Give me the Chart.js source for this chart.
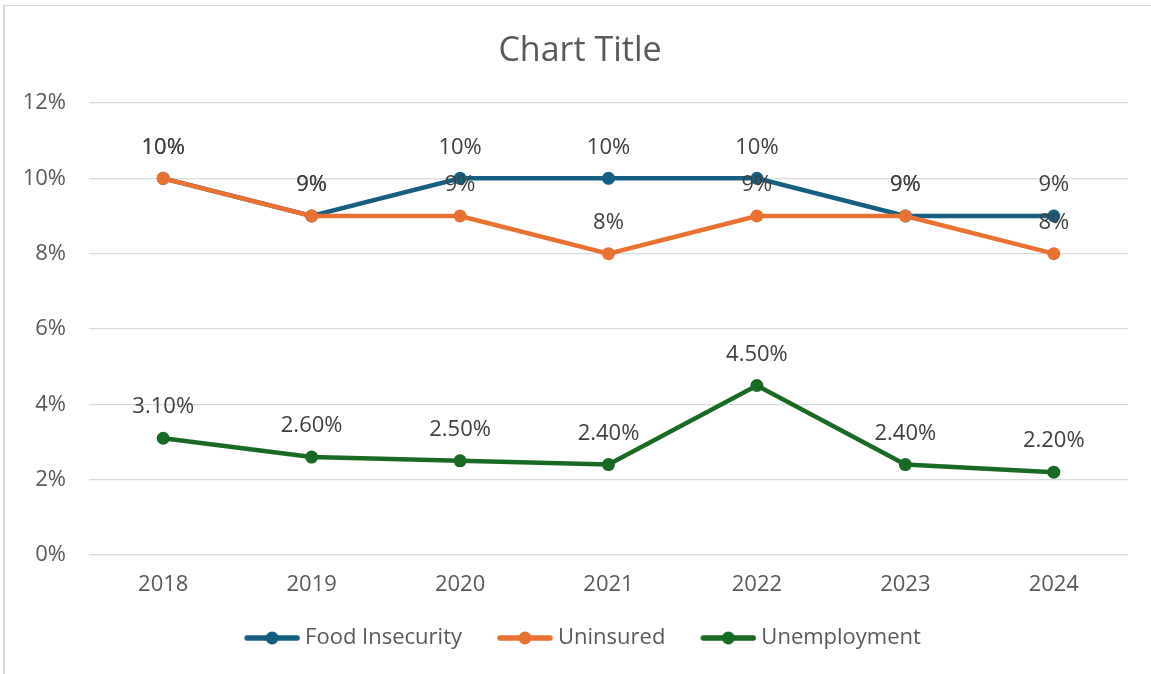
<!DOCTYPE html>
<html>
<head>
<meta charset="utf-8">
<script src="https://cdn.jsdelivr.net/npm/chart.js@4/dist/chart.umd.min.js"></script>
<style>
  html, body { margin: 0; padding: 0; background: #ffffff; }
  #wrap { position: relative; width: 1151px; height: 674px; overflow: hidden; }
  #frame { position: absolute; left: 3px; top: 5px; right: -2px; bottom: -2px;
           border-left: 2px solid #d9d9d9; border-top: 1px solid #d9d9d9; }
  canvas { position: absolute; left: 0; top: 0; }
</style>
</head>
<body>
<div id="wrap">
  <div id="frame"></div>
  <canvas id="c" width="1151" height="674"></canvas>
</div>
<script>
const categories = ['2018', '2019', '2020', '2021', '2022', '2023', '2024'];
const foodInsecurity = [10, 9, 10, 10, 10, 9, 9];
const uninsured = [10, 9, 9, 8, 9, 9, 8];
const unemployment = [3.1, 2.6, 2.5, 2.4, 4.5, 2.4, 2.2];
const seriesNames = ['Food Insecurity', 'Uninsured', 'Unemployment'];
const seriesColors = ['#156082', '#E97132', '#196B24'];
const labelDecimals = [0, 0, 2];
const yTicks = [0, 2, 4, 6, 8, 10, 12];

const FONT = '"Open Sans", "Liberation Sans", sans-serif';

// legend marker: line with a dot, drawn on the right part of a wider transparent canvas
function legendMarker(color) {
  const cv = document.createElement('canvas');
  cv.width = 69; cv.height = 16;
  const g = cv.getContext('2d');
  g.strokeStyle = color; g.lineWidth = 5.5; g.lineCap = 'round';
  g.beginPath(); g.moveTo(16, 8); g.lineTo(66, 8); g.stroke();
  g.fillStyle = color;
  g.beginPath(); g.arc(41, 8, 6.5, 0, Math.PI * 2); g.fill();
  return cv;
}
const markers = seriesColors.map(legendMarker);

const dataLabelPlugin = {
  id: 'dataLabels',
  afterDatasetsDraw(chart) {
    const ctx = chart.ctx;
    ctx.save();
    ctx.font = '22px ' + FONT;
    ctx.fillStyle = '#404040';
    ctx.textAlign = 'center';
    ctx.textBaseline = 'middle';
    chart.data.datasets.forEach((ds, i) => {
      const meta = chart.getDatasetMeta(i);
      meta.data.forEach((pt, j) => {
        const v = ds.data[j];
        ctx.fillText(v.toFixed(labelDecimals[i]) + '%', pt.x, pt.y - 31);
      });
    });
    ctx.restore();
  }
};

// shift the legend and title boxes so that they are centred like the reference
const boxShiftPlugin = {
  id: 'boxShift',
  afterLayout(chart) {
    if (chart.legend) { chart.legend.left += 30; }
    if (chart.titleBlock) { chart.titleBlock.left += 32; }
  }
};

const allSeries = [foodInsecurity, uninsured, unemployment];

new Chart(document.getElementById('c'), {
  type: 'line',
  data: {
    labels: categories,
    datasets: allSeries.map((d, i) => ({
      label: seriesNames[i],
      data: d,
      borderColor: seriesColors[i],
      backgroundColor: seriesColors[i],
      pointBackgroundColor: seriesColors[i],
      pointBorderColor: seriesColors[i],
      borderWidth: 4.5,
      pointRadius: 6.5,
      pointBorderWidth: 0,
      tension: 0,
      order: 3 - i
    }))
  },
  options: {
    responsive: false,
    animation: false,
    devicePixelRatio: 1,
    layout: { padding: { left: 0, right: 23, top: 0, bottom: 15 } },
    plugins: {
      tooltip: { enabled: false },
      title: {
        display: true,
        text: 'Chart Title',
        color: '#595959',
        font: { family: FONT, size: 34, weight: 'normal' },
        padding: { top: 30.6, bottom: 31.6 }
      },
      legend: {
        display: true,
        position: 'bottom',
        labels: {
          usePointStyle: true,
          pointStyleWidth: 57,
          boxHeight: 16,
          padding: 28,
          color: '#595959',
          font: { family: FONT, size: 22 },
          generateLabels(chart) {
            return chart.data.datasets.map((ds, i) => ({
              text: ds.label,
              fillStyle: seriesColors[i],
              strokeStyle: seriesColors[i],
              lineWidth: 0,
              pointStyle: markers[i],
              fontColor: '#595959',
              hidden: false,
              datasetIndex: i
            }));
          }
        }
      }
    },
    scales: {
      x: {
        offset: true,
        grid: { display: false, drawTicks: false },
        border: { display: false },
        ticks: { color: '#595959', font: { family: FONT, size: 22 }, padding: 16.8 },
        afterFit(scale) { scale.height = 44; }
      },
      y: {
        min: 0, max: 12,
        afterBuildTicks(scale) { scale.ticks = yTicks.map(v => ({ value: v })); },
        grid: { color: '#d9d9d9', lineWidth: 1.3, drawTicks: false },
        border: { display: false },
        ticks: { color: '#595959', font: { family: FONT, size: 22 }, padding: 23,
                 callback: v => v + '%' },
        afterFit(scale) { scale.width = 89; }
      }
    }
  },
  plugins: [dataLabelPlugin, boxShiftPlugin]
});
</script>
</body>
</html>
